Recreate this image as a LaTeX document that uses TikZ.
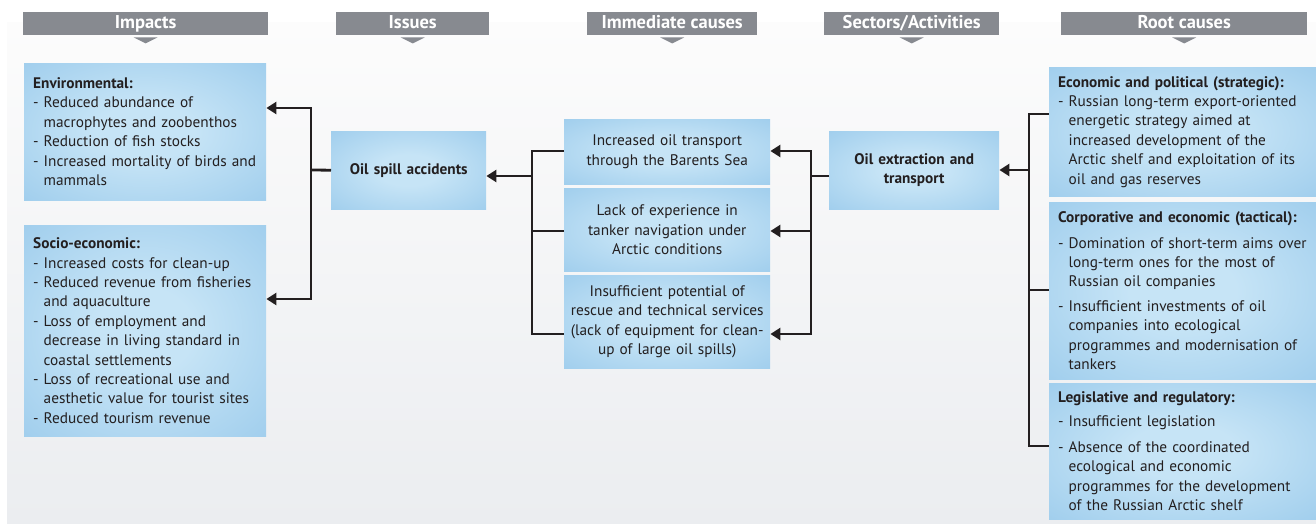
\documentclass[tikz,border=0pt]{standalone}
\usepackage{fontspec}
\setmainfont{PT Sans}
\usetikzlibrary{arrows.meta,calc}
\definecolor{hdr}{HTML}{878A90}
\definecolor{boxout}{HTML}{8CC2E8}
\definecolor{boxin}{HTML}{C6E4F6}
\definecolor{ink}{HTML}{231F20}
\definecolor{bgtop}{HTML}{FCFCFC}
\definecolor{bgbot}{HTML}{EBEDF0}
\pgfdeclareradialshading{boxshade}{\pgfpoint{0bp}{0bp}}{color(0bp)=(boxin); color(10bp)=(boxin); color(50bp)=(boxout); color(80bp)=(boxout)}
\newcommand\bul{\makebox[10.5pt][l]{-}}
\newcommand\hind{\hspace*{10.5pt}}
\tikzset{
  hdrbox/.style={fill=hdr, text=white, font=\fontsize{18.5}{20}\selectfont\bfseries, minimum height=23pt, text height=12.5pt, text depth=3.5pt, inner sep=0pt, anchor=north west},
  bluebox/.style={shading=boxshade, inner ysep=0pt, inner xsep=9pt, text=ink, font=\fontsize{15.3}{19.4}\selectfont, anchor=north west},
  listbox/.style={bluebox, align=left},
  cbox/.style={bluebox, align=center, inner xsep=2pt},
  boldbox/.style={cbox, font=\fontsize{15.3}{19.4}\selectfont\bfseries},
  ln/.style={line width=2.8pt, draw=ink},
  arr/.style={ln, -{Triangle[length=10pt,width=12pt]}},
  tri/.style={fill=hdr}
}
\begin{document}
\begin{tikzpicture}[x=1pt,y=-1pt]
\useasboundingbox (0,0) rectangle (1316,524);
\fill[top color=bgtop, bottom color=bgbot] (7,23) rectangle (1316,524);

% headers
\node[hdrbox, minimum width=245pt] (h1) at (23,12) {Impacts};
\node[hdrbox, minimum width=153pt] (h2) at (336,12) {Issues};
\node[hdrbox, minimum width=170pt] (h3) at (587,12) {Immediate causes};
\node[hdrbox, minimum width=175pt] (h4) at (824,12) {Sectors/Activities};
\node[hdrbox, minimum width=246pt] (h5) at (1061,12) {Root causes};
\foreach \h in {h1,h2,h3,h4,h5}{
  \fill[tri] ($(\h.south)+(-12,2)$) -- ($(\h.south)+(12,2)$) -- ($(\h.south)+(0,8)$) -- cycle;
}

% impacts
\node[listbox, text width=224pt, minimum height=137pt] (env) at (24,63) {\textbf{Environmental:}\\
\bul Reduced abundance of\\
\hind macrophytes and zoobenthos\\
\bul Reduction of fish stocks\\
\bul Increased mortality of birds and\\
\hind mammals};
\node[listbox, text width=224pt, minimum height=211pt] (soc) at (24,225) {\textbf{Socio-economic:}\\
\bul Increased costs for clean-up\\
\bul Reduced revenue from fisheries\\
\hind and aquaculture\\
\bul Loss of employment and\\
\hind decrease in living standard in\\
\hind coastal settlements\\
\bul Loss of recreational use and\\
\hind aesthetic value for tourist sites\\
\bul Reduced tourism revenue};

% issues
\node[boldbox, text width=151pt, minimum height=78pt] (os) at (331,131) {Oil spill accidents};

% immediate causes
\node[cbox, text width=202pt, minimum height=65pt] (ic1) at (564,119) {Increased oil transport\\through the Barents Sea};
\node[cbox, text width=202pt, minimum height=83pt] (ic2) at (564,188) {Lack of experience in\\tanker navigation under\\Arctic conditions};
\node[cbox, text width=202pt, minimum height=93pt] (ic3) at (564,275) {Insufficient potential of\\rescue and technical services\\(lack of equipment for clean-\\up of large oil spills)};

% sectors
\node[boldbox, text width=166pt, minimum height=78pt] (oe) at (829,131) {Oil extraction and\\transport};

% root causes
\node[listbox, text width=249pt, minimum height=129pt] (r1) at (1049,67) {\textbf{Economic and political (strategic):}\\
\bul Russian long-term export-oriented\\
\hind energetic strategy aimed at\\
\hind increased development of the\\
\hind Arctic shelf and exploitation of its\\
\hind oil and gas reserves};
\node[listbox, text width=249pt, minimum height=177pt] (r2) at (1049,202) {\textbf{Corporative and economic (tactical):}\\[6pt]
\bul Domination of short-term aims over\\
\hind long-term ones for the most of\\
\hind Russian oil companies\\[5pt]
\bul Insufficient investments of oil\\
\hind companies into ecological\\
\hind programmes and modernisation of\\
\hind tankers};
\node[listbox, text width=249pt, minimum height=136pt] (r3) at (1049,383) {\textbf{Legislative and regulatory:}\\[5pt]
\bul Insufficient legislation\\[6pt]
\bul Absence of the coordinated\\
\hind ecological and economic\\
\hind programmes for the development\\
\hind of the Russian Arctic shelf};

% connectors: issues -> impacts
\coordinate (jL) at (311,170);
\draw[ln] (os.west) -- (jL);
\draw[arr] (jL) |- (env.east |- 0,108);
\draw[arr] (jL) |- (soc.east |- 0,299);

% immediate -> issues
\coordinate (jM) at (532,176);
\coordinate (bM1) at (532,151);
\coordinate (bM3) at (532,334);
\draw[arr] (jM) -- (os.east |- jM);
\draw[ln] (ic1.west |- bM1) -- (bM1) -- (bM3) -- (ic3.west |- bM3);
\draw[ln] (ic2.west |- 0,231) -- (532,231);

% sectors -> immediate
\coordinate (jR) at (811,176);
\coordinate (bR1) at (811,151);
\coordinate (bR2) at (811,231);
\coordinate (bR3) at (811,334);
\draw[ln] (oe.west |- jR) -- (jR);
\draw[ln, line cap=rect] (bR1) -- (bR3);
\draw[arr] (bR1) -- (ic1.east |- bR1);
\draw[arr] (bR2) -- (ic2.east |- bR2);
\draw[arr] (bR3) -- (ic3.east |- bR3);

% root -> sectors
\coordinate (jT) at (1029,170);
\coordinate (bT1) at (1029,114);
\coordinate (bT2) at (1029,290);
\coordinate (bT3) at (1029,446);
\draw[ln] (r1.west |- bT1) -- (bT1) -- (bT3) -- (r3.west |- bT3);
\draw[ln] (r2.west |- bT2) -- (bT2);
\draw[arr] (jT) -- (oe.east |- jT);
\end{tikzpicture}
\end{document}
